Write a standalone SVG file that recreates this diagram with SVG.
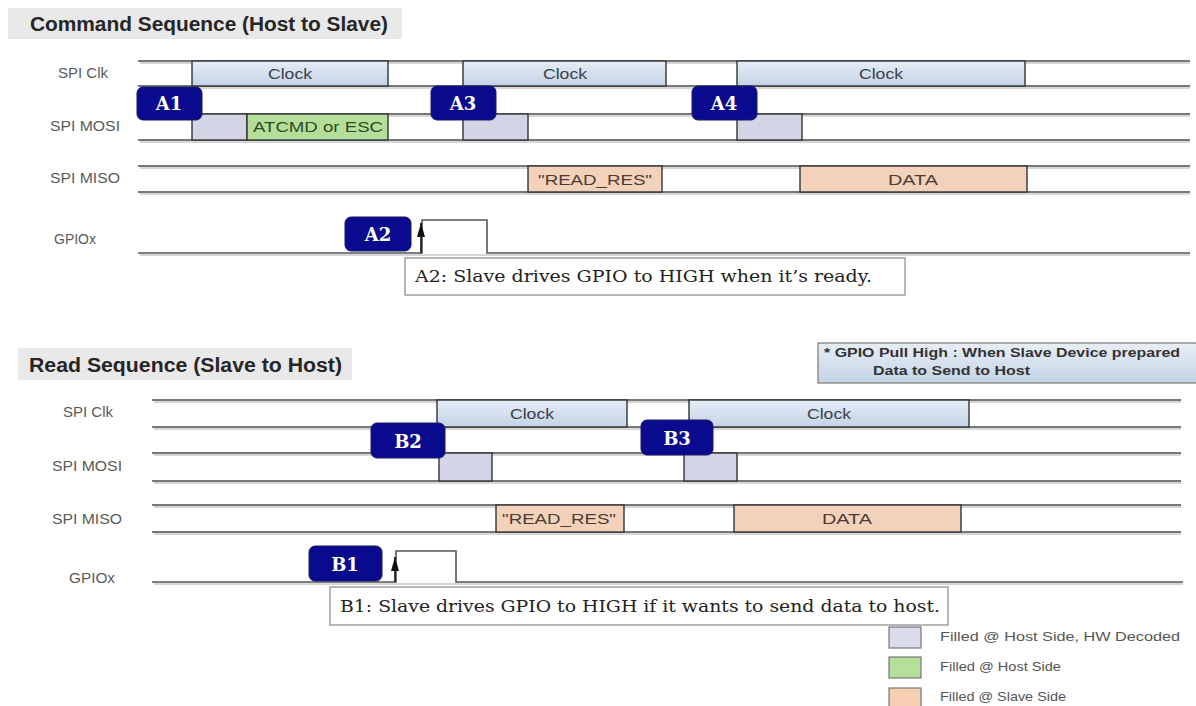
<svg xmlns="http://www.w3.org/2000/svg" width="1196" height="706" viewBox="0 0 1196 706">
<defs>
<linearGradient id="clk" x1="0" y1="0" x2="0" y2="1"><stop offset="0" stop-color="#e6edf6"/><stop offset="1" stop-color="#c3d3e7"/></linearGradient>
<linearGradient id="note" x1="0" y1="0" x2="0" y2="1"><stop offset="0" stop-color="#e8eef6"/><stop offset="1" stop-color="#c4d3e5"/></linearGradient>
<marker id="arr" viewBox="0 0 14 8" refX="14" refY="4" markerWidth="14" markerHeight="8" orient="auto" markerUnits="userSpaceOnUse"><path d="M0,0 L14,4 L0,8 Z" fill="#111"/></marker>
</defs>
<style>
.title{font-family:"Liberation Sans",Arial,sans-serif;font-weight:bold;font-size:20px;fill:#262626}
.tbox{fill:#e9e9e9}
.lbl{font-family:"Liberation Sans",Arial,sans-serif;font-size:14px;fill:#5a5a5a;text-anchor:middle}
.sig{stroke:#4a4a4a;stroke-width:1.6;fill:none}
.sh{stroke:#c8c8c8;stroke-width:1.6;fill:none}
.clk{fill:url(#clk);stroke:#333;stroke-width:1.4}
.hw{fill:#d3d5e6;stroke:#333;stroke-width:1.4}
.host{fill:#b4df9b;stroke:#333;stroke-width:1.4}
.slave{fill:#f3d2bb;stroke:#333;stroke-width:1.4}
.bt{font-family:"Liberation Sans",Arial,sans-serif;font-size:15px;fill:#3a3f4a;text-anchor:middle}
.badge{fill:#0a0a8e;stroke:#1a1a60;stroke-width:1}
.btxt{font-family:"DejaVu Serif",serif;font-weight:bold;font-size:18px;fill:#fff;text-anchor:middle}
.ann{fill:#fff;stroke:#888;stroke-width:1.2}
.atxt{font-family:"DejaVu Serif",serif;font-size:16px;fill:#222}
.leg{font-family:"Liberation Sans",Arial,sans-serif;font-size:13px;fill:#555}
.lsq{stroke:#777;stroke-width:1.2}
.note{font-family:"Liberation Sans",Arial,sans-serif;font-weight:bold;font-size:13px;fill:#333}
</style>
<rect width="1196" height="706" fill="#fff"/>

<!-- Titles -->
<g id="title-cmd"><rect class="tbox" x="8" y="8" width="394" height="31"/><text class="title" x="30" y="31" textLength="358" lengthAdjust="spacingAndGlyphs">Command Sequence (Host to Slave)</text></g>
<g id="title-read"><rect class="tbox" x="18" y="348" width="334" height="32"/><text class="title" x="29" y="372" textLength="313" lengthAdjust="spacingAndGlyphs">Read Sequence (Slave to Host)</text></g>

<!-- Row labels -->
<g id="labels-top">
<text class="lbl" x="83" y="78" textLength="50" lengthAdjust="spacingAndGlyphs">SPI Clk</text>
<text class="lbl" x="85" y="131" textLength="70" lengthAdjust="spacingAndGlyphs">SPI MOSI</text>
<text class="lbl" x="85" y="183" textLength="70" lengthAdjust="spacingAndGlyphs">SPI MISO</text>
<text class="lbl" x="75" y="244" textLength="42" lengthAdjust="spacingAndGlyphs">GPIOx</text>
</g>
<g id="labels-bottom">
<text class="lbl" x="88" y="417" textLength="50" lengthAdjust="spacingAndGlyphs">SPI Clk</text>
<text class="lbl" x="87" y="471" textLength="70" lengthAdjust="spacingAndGlyphs">SPI MOSI</text>
<text class="lbl" x="87" y="524" textLength="70" lengthAdjust="spacingAndGlyphs">SPI MISO</text>
<text class="lbl" x="92" y="583" textLength="46" lengthAdjust="spacingAndGlyphs">GPIOx</text>
</g>

<!-- Signal lines top -->
<g id="signals-top">
<g class="sh">
<line x1="140" y1="63" x2="1190" y2="63"/><line x1="140" y1="88" x2="1190" y2="88"/>
<line x1="140" y1="116" x2="1190" y2="116"/><line x1="140" y1="142" x2="1190" y2="142"/>
<line x1="140" y1="168" x2="1190" y2="168"/><line x1="140" y1="194" x2="1190" y2="194"/>
<line x1="140" y1="255" x2="1190" y2="255"/>
</g>
<g class="sig">
<line x1="138" y1="61" x2="1190" y2="61"/><line x1="138" y1="86" x2="1190" y2="86"/>
<line x1="138" y1="114" x2="1190" y2="114"/><line x1="138" y1="140" x2="1190" y2="140"/>
<line x1="138" y1="166" x2="1190" y2="166"/><line x1="138" y1="192" x2="1190" y2="192"/>
<polyline points="138,253 422,253 422,220 487,220 487,253 1190,253" style="stroke:#555"/>
</g>
<rect class="clk" x="192" y="61" width="196" height="25"/><text class="bt" x="290" y="79" textLength="44" lengthAdjust="spacingAndGlyphs">Clock</text>
<rect class="clk" x="463" y="61" width="203" height="25"/><text class="bt" x="565" y="79" textLength="44" lengthAdjust="spacingAndGlyphs">Clock</text>
<rect class="clk" x="737" y="61" width="288" height="25"/><text class="bt" x="881" y="79" textLength="44" lengthAdjust="spacingAndGlyphs">Clock</text>
<rect class="hw" x="192" y="114" width="55" height="26"/>
<rect class="host" x="247" y="114" width="141" height="26"/><text class="bt" x="318" y="132" textLength="130" lengthAdjust="spacingAndGlyphs" style="fill:#2e4a22">ATCMD or ESC</text>
<rect class="hw" x="463" y="114" width="65" height="26"/>
<rect class="hw" x="737" y="114" width="65" height="26"/>
<rect class="slave" x="528" y="166" width="134" height="26"/><text class="bt" x="595" y="185" textLength="114" lengthAdjust="spacingAndGlyphs" style="fill:#4a3c32">"READ_RES"</text>
<rect class="slave" x="800" y="166" width="227" height="26"/><text class="bt" x="913" y="185" textLength="50" lengthAdjust="spacingAndGlyphs" style="fill:#4a3c32">DATA</text>
</g>

<!-- Signal lines bottom -->
<g id="signals-bottom">
<g class="sh">
<line x1="154" y1="402" x2="1181" y2="402"/><line x1="154" y1="429" x2="1181" y2="429"/>
<line x1="154" y1="455" x2="1181" y2="455"/><line x1="154" y1="483" x2="1181" y2="483"/>
<line x1="154" y1="507" x2="1181" y2="507"/><line x1="154" y1="534" x2="1181" y2="534"/>
<line x1="154" y1="584" x2="1183" y2="584"/>
</g>
<g class="sig">
<line x1="152" y1="400" x2="1181" y2="400"/><line x1="152" y1="427" x2="1181" y2="427"/>
<line x1="152" y1="453" x2="1181" y2="453"/><line x1="152" y1="481" x2="1181" y2="481"/>
<line x1="152" y1="505" x2="1181" y2="505"/><line x1="152" y1="532" x2="1181" y2="532"/>
<polyline points="152,582 396,582 396,551 456,551 456,582 1183,582" style="stroke:#555"/>
</g>
<rect class="clk" x="437" y="400" width="190" height="27"/><text class="bt" x="532" y="419" textLength="44" lengthAdjust="spacingAndGlyphs">Clock</text>
<rect class="clk" x="689" y="400" width="280" height="27"/><text class="bt" x="829" y="419" textLength="44" lengthAdjust="spacingAndGlyphs">Clock</text>
<rect class="hw" x="439" y="453" width="53" height="28"/>
<rect class="hw" x="684" y="453" width="53" height="28"/>
<rect class="slave" x="496" y="505" width="128" height="27"/><text class="bt" x="559" y="524" textLength="114" lengthAdjust="spacingAndGlyphs" style="fill:#4a3c32">"READ_RES"</text>
<rect class="slave" x="734" y="505" width="227" height="27"/><text class="bt" x="847" y="524" textLength="50" lengthAdjust="spacingAndGlyphs" style="fill:#4a3c32">DATA</text>
</g>

<!-- Connectors (arrows) -->
<g id="connectors">
<line x1="421" y1="253" x2="421" y2="223" stroke="#111" stroke-width="1.6" marker-end="url(#arr)"/>
<line x1="395" y1="582" x2="395" y2="557" stroke="#111" stroke-width="1.6" marker-end="url(#arr)"/>
</g>

<!-- Badges -->
<g id="A1"><rect class="badge" x="137" y="87" width="65" height="33" rx="6"/><text class="btxt" x="169" y="110">A1</text></g>
<g id="A3"><rect class="badge" x="431" y="86" width="65" height="34" rx="6"/><text class="btxt" x="463" y="110">A3</text></g>
<g id="A4"><rect class="badge" x="692" y="86" width="65" height="34" rx="6"/><text class="btxt" x="724" y="110">A4</text></g>
<g id="A2"><rect class="badge" x="345" y="217" width="66" height="34" rx="6"/><text class="btxt" x="378" y="241">A2</text></g>
<g id="B2"><rect class="badge" x="371" y="423" width="74" height="35" rx="6"/><text class="btxt" x="408" y="448">B2</text></g>
<g id="B3"><rect class="badge" x="641" y="420" width="72" height="35" rx="6"/><text class="btxt" x="677" y="445">B3</text></g>
<g id="B1"><rect class="badge" x="309" y="546" width="73" height="35" rx="6"/><text class="btxt" x="345" y="571">B1</text></g>

<!-- Annotations -->
<g id="note-A2"><rect class="ann" x="405" y="258" width="500" height="37"/><text class="atxt" x="415" y="282" textLength="457" lengthAdjust="spacingAndGlyphs">A2: Slave drives GPIO to HIGH when it’s ready.</text></g>
<g id="note-B1"><rect class="ann" x="330" y="587" width="618" height="38"/><text class="atxt" x="340" y="612" textLength="600" lengthAdjust="spacingAndGlyphs">B1: Slave drives GPIO to HIGH if it wants to send data to host.</text></g>
<g id="note-gpio"><rect x="818" y="343" width="380" height="40" fill="url(#note)" stroke="#777" stroke-width="1.2"/><text class="note" x="824" y="357" textLength="356" lengthAdjust="spacingAndGlyphs">* GPIO Pull High : When Slave Device prepared</text><text class="note" x="873" y="375" textLength="157" lengthAdjust="spacingAndGlyphs">Data to Send to Host</text></g>

<!-- Legend -->
<g id="legend">
<rect class="lsq" x="889" y="627" width="32" height="21" fill="#dadbea"/><text class="leg" x="940" y="641" textLength="240" lengthAdjust="spacingAndGlyphs">Filled @ Host Side, HW Decoded</text>
<rect class="lsq" x="889" y="657" width="32" height="21" fill="#b6df9c"/><text class="leg" x="940" y="671" textLength="121" lengthAdjust="spacingAndGlyphs">Filled @ Host Side</text>
<rect class="lsq" x="889" y="688" width="32" height="21" fill="#f6cfb2"/><text class="leg" x="940" y="701" textLength="126" lengthAdjust="spacingAndGlyphs">Filled @ Slave Side</text>
</g>
</svg>
